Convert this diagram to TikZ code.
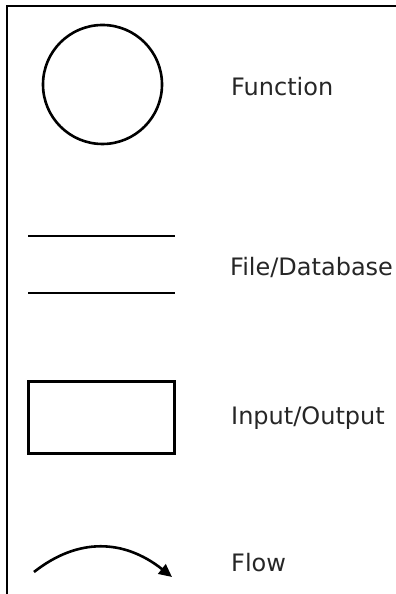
\documentclass[tikz,border=0pt]{standalone}
\usepackage{fontspec}
\setmainfont{DejaVu Sans}
\usetikzlibrary{arrows.meta}
\begin{document}
\begin{tikzpicture}[x=1pt,y=1pt,
  symb/.style={line width=2.6pt,draw=black},
  txt/.style={anchor=base west,inner sep=0pt,font=\fontsize{24}{29}\selectfont,text=black!85}]
\useasboundingbox (0,0) rectangle (396,594);
% frame
\draw[line width=2.2pt] (396,588) -- (7,588) -- (7,0);
% function circle
\node[symb,circle,minimum size=119pt,inner sep=0pt] (fn) at (102.5,509.5) {};
\node[txt] (tfn) at (231,498) {Function};
% file/database lines
\coordinate (l1a) at (28,358); \coordinate (l1b) at (175,358);
\coordinate (l2a) at (28,301); \coordinate (l2b) at (175,301);
\draw[symb] (l1a) -- (l1b);
\draw[symb] (l2a) -- (l2b);
\node[txt] (tdb) at (230,318) {File/Database};
% input/output rectangle
\draw[symb,line width=3pt] (28.5,140.5) rectangle (174.5,212.5);
\node[txt] (tio) at (231,169) {Input/Output};
% flow arrow
\coordinate (fa) at (34,22); \coordinate (fb) at (172,17);
\draw[symb,-{Triangle[length=13pt,width=12pt]}] (fa) .. controls (78,56.7) and (124,55) .. (fb);
\node[txt] (tfl) at (231,22) {Flow};
\end{tikzpicture}
\end{document}
